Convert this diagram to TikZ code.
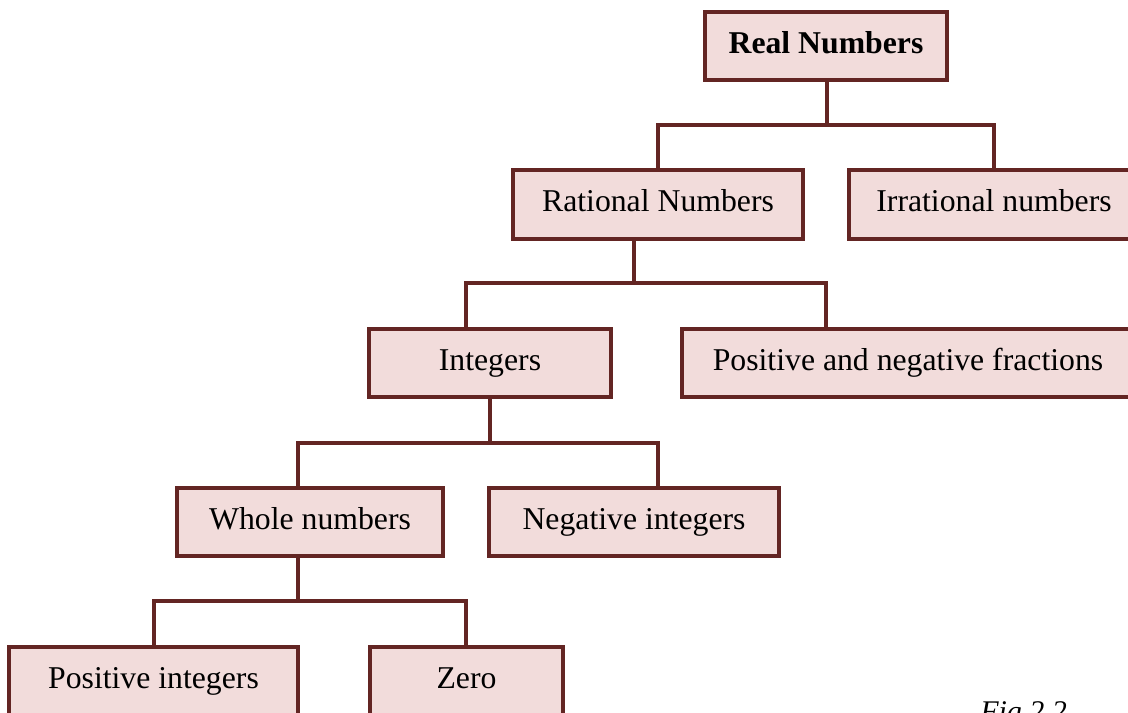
\documentclass[tikz,border=0pt]{standalone}
\usepackage{fontspec}
\setmainfont{Liberation Serif}
\definecolor{boxline}{RGB}{99,37,35}
\definecolor{boxfill}{RGB}{242,220,219}
\begin{document}
\begin{tikzpicture}[x=0.75pt,y=-0.75pt,
  numbox/.style={draw=boxline, fill=boxfill, line width=3pt, rectangle,
    inner sep=0pt, minimum height=51pt, text height=16.7pt, text depth=6pt,
    font=\fontsize{23.8pt}{28pt}\selectfont},
  conn/.style={draw=boxline, line width=2.4pt},
  figlabel/.style={font=\fontsize{22.5pt}{27pt}\selectfont\itshape, anchor=base west, inner sep=0pt}]
\useasboundingbox (0,0) rectangle (1128,713);
\clip (0,0) rectangle (1128,713);

% nodes
\node[numbox, minimum width=181.5pt, font=\fontsize{23.8pt}{28pt}\selectfont\bfseries] (real) at (826,46) {Real Numbers};
\node[numbox, minimum width=217.5pt, minimum height=51.75pt] (rational) at (658,204.5) {Rational Numbers};
\node[numbox, minimum width=217.5pt, minimum height=51.75pt] (irrational) at (994,204.5) {Irrational numbers};
\node[numbox, minimum width=181.5pt] (integers) at (490,363) {Integers};
\node[numbox, minimum width=339pt] (posneg) at (908,363) {Positive and negative fractions};
\node[numbox, minimum width=199.5pt] (whole) at (310,522) {Whole numbers};
\node[numbox, minimum width=217.5pt] (negative) at (634,522) {Negative integers};
\node[numbox, minimum width=216.75pt] (positive) at (153.5,681) {Positive integers};
\node[numbox, minimum width=144.75pt] (zero) at (466.5,681) {Zero};
\node[figlabel] (fig) at (980,721) {Fig 2.2};

% connector coordinates
\coordinate (r0) at (827,125);
\coordinate (rL) at (658,125);
\coordinate (rR) at (994,125);
\coordinate (q0) at (634,283);
\coordinate (qL) at (466,283);
\coordinate (qR) at (826,283);
\coordinate (i0) at (490,443);
\coordinate (iL) at (298,443);
\coordinate (iR) at (658,443);
\coordinate (w0) at (298,601);
\coordinate (wL) at (154,601);
\coordinate (wR) at (466,601);

% connectors
\draw[conn] (real.south -| r0) -- (r0);
\draw[conn] (rational.north -| rL) -- (rL) -- (rR) -- (irrational.north -| rR);
\draw[conn] (rational.south -| q0) -- (q0);
\draw[conn] (integers.north -| qL) -- (qL) -- (qR) -- (posneg.north -| qR);
\draw[conn] (integers.south -| i0) -- (i0);
\draw[conn] (whole.north -| iL) -- (iL) -- (iR) -- (negative.north -| iR);
\draw[conn] (whole.south -| w0) -- (w0);
\draw[conn] (positive.north -| wL) -- (wL) -- (wR) -- (zero.north -| wR);
\end{tikzpicture}
\end{document}
